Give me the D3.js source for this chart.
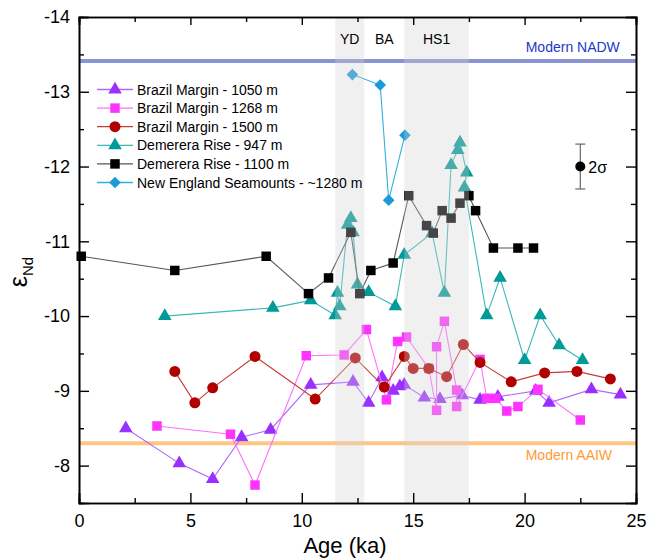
<!DOCTYPE html>
<html>
<head>
<meta charset="utf-8">
<script src="https://cdn.jsdelivr.net/npm/d3@7"></script>
<style>
  body { margin: 0; background: #fff; }
  svg { font-family: "Liberation Sans", Arial, sans-serif; }
</style>
</head>
<body>
<div id="chart"></div>
<script>
// ages (ka) and eNd values
const bm1050Age = [2.1, 4.5, 6.0, 7.3, 8.6, 10.4, 12.3, 13.0, 13.6, 14.1, 14.4, 14.6, 15.5, 16.2, 17.2, 18.0, 18.8, 20.5, 21.1, 23.0, 24.3];
const bm1050Nd  = [-8.50, -8.03, -7.82, -8.38, -8.48, -9.08, -9.12, -8.84, -9.18, -9.00, -9.06, -9.08, -8.91, -8.89, -8.94, -8.88, -8.92, -9.00, -8.84, -9.02, -8.95];

const bm1268Age = [3.5, 6.8, 7.9, 10.2, 11.9, 12.9, 13.8, 14.3, 14.7, 15.7, 16.05, 16.05, 16.4, 16.95, 16.95, 18.0, 18.3, 18.7, 19.2, 19.7, 20.6, 22.5];
const bm1268Nd  = [-8.53, -8.42, -7.74, -9.47, -9.48, -9.82, -8.88, -9.66, -9.72, -9.30, -8.74, -9.59, -9.93, -9.01, -8.79, -9.42, -8.90, -8.90, -8.73, -8.79, -9.02, -8.61];

const bm1500Age = [4.3, 5.2, 6.0, 7.9, 10.6, 12.4, 13.7, 14.6, 15.0, 15.7, 16.5, 17.25, 18.0, 19.4, 20.9, 22.35, 23.85];
const bm1500Nd  = [-9.26, -8.84, -9.04, -9.46, -8.89, -9.44, -9.05, -9.46, -9.30, -9.30, -9.19, -9.62, -9.38, -9.12, -9.24, -9.26, -9.16];

const dr947Age = [3.85, 8.7, 10.4, 11.5, 11.6, 11.7, 12.05, 12.2, 12.3, 12.5, 13.0, 14.2, 14.6, 15.85, 16.4, 16.7, 17.0, 17.1, 17.4, 17.3, 18.3, 18.9, 20.0, 20.7, 21.55, 22.6];
const dr947Nd  = [-10.00, -10.11, -10.21, -10.01, -10.31, -10.13, -11.22, -11.31, -11.12, -10.42, -10.32, -10.13, -10.82, -11.11, -10.31, -12.02, -12.22, -12.32, -11.92, -11.72, -10.01, -10.51, -9.41, -10.01, -9.61, -9.41];

const dr1100Age = [0.1, 4.3, 8.4, 10.3, 11.2, 12.2, 12.6, 13.1, 14.1, 14.8, 15.6, 15.9, 16.3, 16.7, 17.1, 17.5, 17.8, 18.6, 19.7, 20.4];
const dr1100Nd  = [-10.80, -10.61, -10.80, -10.30, -10.51, -11.12, -10.30, -10.61, -10.71, -11.61, -11.21, -11.11, -11.41, -11.31, -11.51, -11.61, -11.41, -10.91, -10.91, -10.91];

const neAge = [12.27, 13.52, 13.9, 14.63];
const neNd  = [-13.23, -13.09, -11.55, -12.42];

const seriesNames = ["Brazil Margin - 1050 m", "Brazil Margin - 1268 m", "Brazil Margin - 1500 m",
                     "Demerera Rise - 947 m", "Demerera Rise - 1100 m", "New England Seamounts - ~1280 m"];

// climate intervals
const bandStart = [11.5, 14.6];
const bandEnd   = [12.8, 17.5];
const bandLabels = ["YD", "BA", "HS1"];
const bandLabelAge = [12.15, 13.7, 16.05];

const nadwNd = -13.41;
const aaiwNd = -8.30;
const errAge = 22.5, errNd = -12.0, err2s = 0.3;

const xTicks = [0, 5, 10, 15, 20, 25];
const xMinor = [2.5, 7.5, 12.5, 17.5, 22.5];
const yTicks = [-14, -13, -12, -11, -10, -9, -8];
const yMinor = [-13.5, -12.5, -11.5, -10.5, -9.5, -8.5];

const width = 647, height = 560;
const pLeft = 79, pRight = 636, pTop = 17, pBottom = 503;

const svg = d3.select("#chart").append("svg")
    .attr("width", width)
    .attr("height", height);

const x = d3.scaleLinear().domain([0, 25]).range([pLeft, pRight]);
const y = d3.scaleLinear().domain([-7.5, -14]).range([pBottom, pTop]);

const styles = [
    {age: bm1050Age, nd: bm1050Nd, marker: "#9a30ff", line: "#b066ff", shape: "tri"},
    {age: bm1268Age, nd: bm1268Nd, marker: "#ff33ff", line: "#ff70ff", shape: "sq"},
    {age: bm1500Age, nd: bm1500Nd, marker: "#b00000", line: "#c83a3a", shape: "circ"},
    {age: dr947Age, nd: dr947Nd, marker: "#009a98", line: "#3ab8b8", shape: "tri"},
    {age: dr1100Age, nd: dr1100Nd, marker: "#000000", line: "#555555", shape: "sq"},
    {age: neAge, nd: neNd, marker: "#1a9ad8", line: "#33b0e0", shape: "dia"}
];

function symbolPath(shape) {
    if (shape === "tri") return d3.symbol(d3.symbolTriangle, 80)();
    if (shape === "sq") return d3.symbol(d3.symbolSquare, 90)();
    if (shape === "circ") return d3.symbol(d3.symbolCircle, 95)();
    return d3.symbol(d3.symbolSquare, 68)();
}
function symbolRot(shape) { return shape === "dia" ? " rotate(45)" : ""; }

// reference lines
svg.append("line")
    .attr("x1", pLeft).attr("x2", pRight)
    .attr("y1", y(nadwNd)).attr("y2", y(nadwNd))
    .attr("stroke", "#8a93d4").attr("stroke-width", 4);
svg.append("line")
    .attr("x1", pLeft).attr("x2", pRight)
    .attr("y1", y(aaiwNd)).attr("y2", y(aaiwNd))
    .attr("stroke", "#ffc585").attr("stroke-width", 4);

svg.append("text")
    .attr("x", x(20.05)).attr("y", y(nadwNd) - 9)
    .attr("fill", "#2039c4").style("font-size", "14px")
    .text("Modern NADW");
svg.append("text")
    .attr("x", x(20.05)).attr("y", y(aaiwNd) + 17)
    .attr("fill", "#ff9a33").style("font-size", "14px")
    .text("Modern AAIW");

// series
const lineGen = d3.line().x(d => x(d[0])).y(d => y(d[1]));
styles.forEach(s => {
    const pts = s.age.map((a, i) => [a, s.nd[i]]);
    const g = svg.append("g");
    g.append("path")
        .attr("d", lineGen(pts))
        .attr("fill", "none")
        .attr("stroke", s.line)
        .attr("stroke-width", 1.1);
    g.selectAll("path.m")
        .data(pts)
        .join("path")
        .attr("class", "m")
        .attr("d", symbolPath(s.shape))
        .attr("transform", d => `translate(${x(d[0])},${y(d[1])})` + symbolRot(s.shape))
        .attr("fill", s.marker);
});

// shaded intervals drawn over the data, semi-transparent
svg.selectAll("rect.band")
    .data(bandStart)
    .join("rect")
    .attr("class", "band")
    .attr("x", (d, i) => x(d))
    .attr("width", (d, i) => x(bandEnd[i]) - x(d))
    .attr("y", pTop)
    .attr("height", pBottom - pTop)
    .attr("fill", "#d0d0d0")
    .attr("fill-opacity", 0.33);

svg.selectAll("text.band")
    .data(bandLabels)
    .join("text")
    .attr("class", "band")
    .attr("x", (d, i) => x(bandLabelAge[i]))
    .attr("y", 44)
    .attr("text-anchor", "middle")
    .style("font-size", "14px")
    .text(d => d);

// 2 sigma error bar
const eg = svg.append("g").attr("stroke", "#666").attr("stroke-width", 1.2);
eg.append("line").attr("x1", x(errAge)).attr("x2", x(errAge))
    .attr("y1", y(errNd - err2s)).attr("y2", y(errNd + err2s));
eg.append("line").attr("x1", x(errAge) - 5).attr("x2", x(errAge) + 5)
    .attr("y1", y(errNd - err2s)).attr("y2", y(errNd - err2s));
eg.append("line").attr("x1", x(errAge) - 5).attr("x2", x(errAge) + 5)
    .attr("y1", y(errNd + err2s)).attr("y2", y(errNd + err2s));
svg.append("circle").attr("cx", x(errAge)).attr("cy", y(errNd)).attr("r", 5).attr("fill", "#000");
svg.append("text").attr("x", x(errAge) + 8).attr("y", y(errNd) + 6)
    .style("font-size", "16px").text("2σ");

// legend
const legend = svg.append("g").attr("transform", "translate(97,89.5)");
styles.forEach((s, i) => {
    const row = legend.append("g").attr("transform", `translate(0,${i * 18.6})`);
    row.append("line").attr("x1", 0).attr("x2", 36)
        .attr("stroke", s.line).attr("stroke-width", 1.3);
    row.append("path").attr("d", symbolPath(s.shape))
        .attr("transform", "translate(18,0)" + symbolRot(s.shape))
        .attr("fill", s.marker);
    row.append("text").attr("x", 40).attr("y", 5)
        .style("font-size", "14px").text(seriesNames[i]);
});

// axes, ticks inward on all four sides
function styleAxis(g) {
    g.selectAll(".domain").attr("stroke", "#000").attr("stroke-width", 1.6);
    g.selectAll(".tick line").attr("stroke", "#000").attr("stroke-width", 1.4);
    g.selectAll("text").style("font-size", "18px").attr("fill", "#000")
        .style("font-family", "Liberation Sans, Arial, sans-serif");
}
const fmt = d => String(d);

svg.append("g").attr("transform", `translate(0,${pBottom})`)
    .call(d3.axisBottom(x).tickValues(xTicks).tickSize(-10).tickPadding(11).tickFormat(fmt))
    .call(styleAxis);
svg.append("g").attr("transform", `translate(0,${pBottom})`)
    .call(d3.axisBottom(x).tickValues(xMinor).tickSize(-5).tickFormat(""))
    .call(styleAxis);
svg.append("g").attr("transform", `translate(0,${pTop})`)
    .call(d3.axisTop(x).tickValues(xTicks).tickSize(-8).tickFormat(""))
    .call(styleAxis);
svg.append("g").attr("transform", `translate(0,${pTop})`)
    .call(d3.axisTop(x).tickValues(xMinor).tickSize(-5).tickFormat(""))
    .call(styleAxis);

svg.append("g").attr("transform", `translate(${pLeft},0)`)
    .call(d3.axisLeft(y).tickValues(yTicks).tickSize(-10).tickPadding(9).tickFormat(fmt))
    .call(styleAxis);
svg.append("g").attr("transform", `translate(${pLeft},0)`)
    .call(d3.axisLeft(y).tickValues(yMinor).tickSize(-5).tickFormat(""))
    .call(styleAxis);
svg.append("g").attr("transform", `translate(${pRight},0)`)
    .call(d3.axisRight(y).tickValues(yTicks).tickSize(-10).tickFormat(""))
    .call(styleAxis);
svg.append("g").attr("transform", `translate(${pRight},0)`)
    .call(d3.axisRight(y).tickValues(yMinor).tickSize(-5).tickFormat(""))
    .call(styleAxis);

// axis titles
svg.append("text")
    .attr("x", 345).attr("y", 553)
    .attr("text-anchor", "middle")
    .style("font-size", "22px")
    .text("Age (ka)");

const yl = svg.append("text")
    .attr("transform", "translate(27,272) rotate(-90)")
    .attr("text-anchor", "middle");
yl.append("tspan").style("font-size", "25px").text("ε");
yl.append("tspan").style("font-size", "15px").attr("dy", 6).text("Nd");
</script>
</body>
</html>
